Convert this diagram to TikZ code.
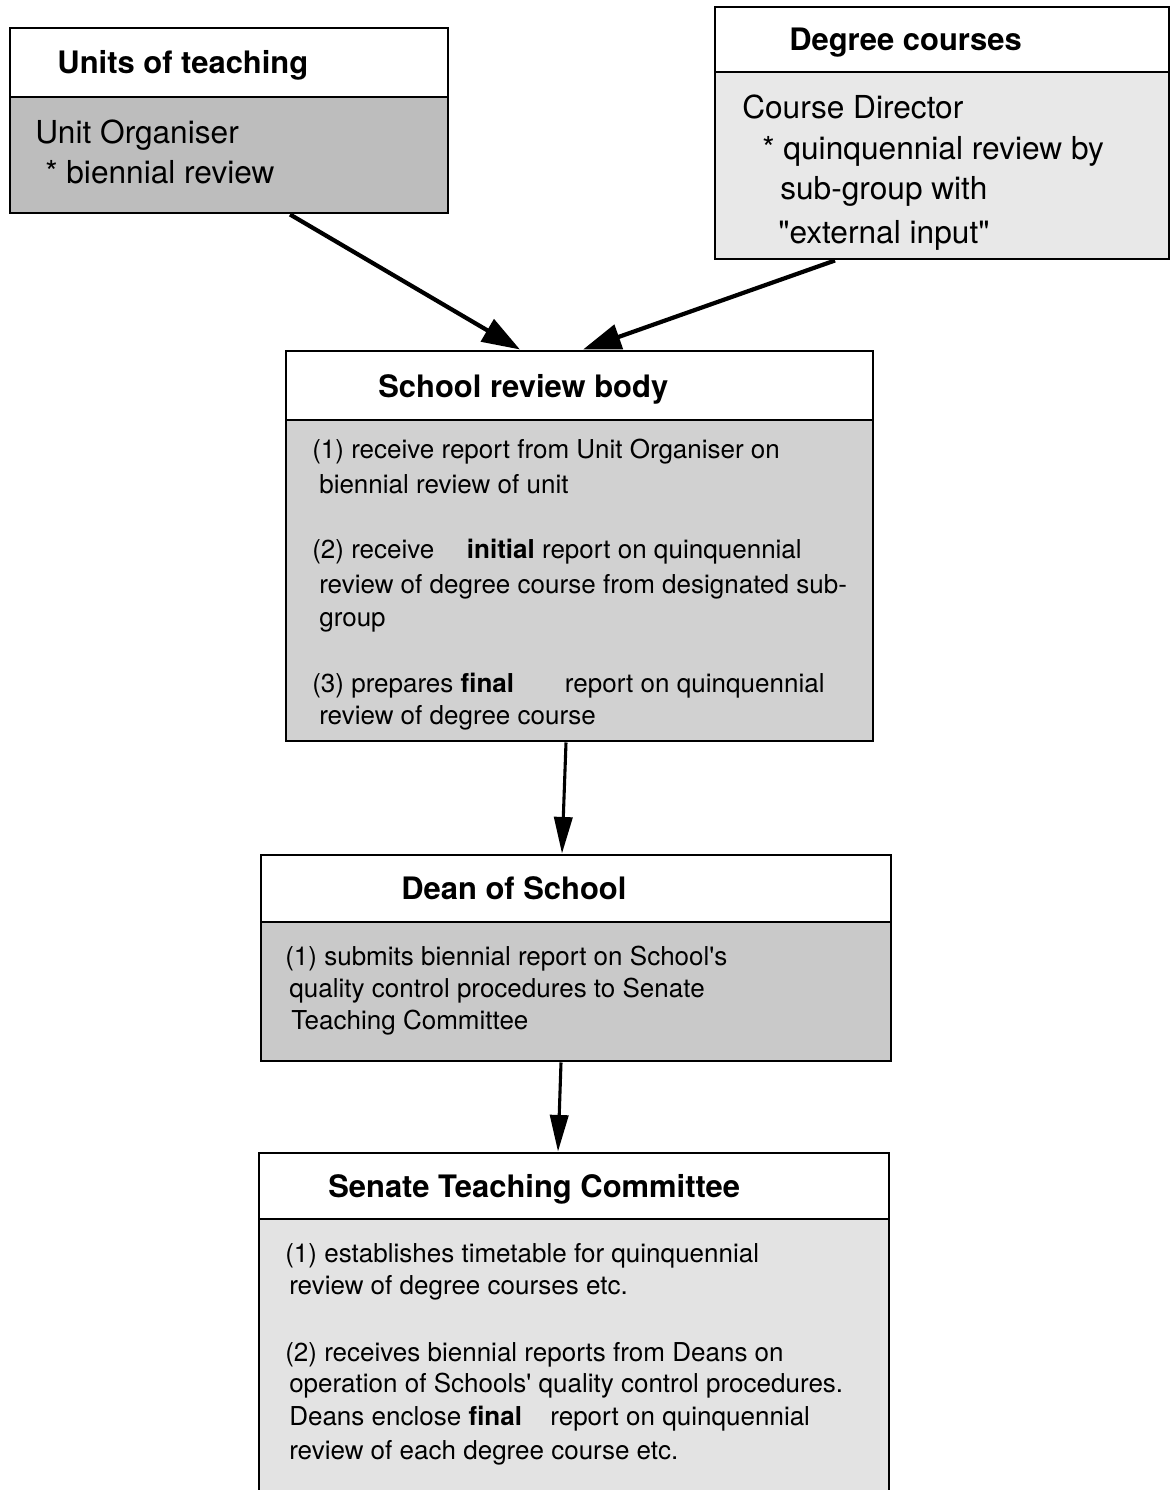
\documentclass[tikz,border=0pt]{standalone}
\usepackage{fontspec}
\setmainfont{TeX Gyre Heros}
\usetikzlibrary{arrows.meta,fit}
\begin{document}
\begin{tikzpicture}[x=0.025cm,y=-0.025cm,
  frame/.style={draw=black, line width=2.1pt, inner sep=0pt},
  divider/.style={line width=2.1pt},
  head/.style={anchor=base west, inner sep=0pt, font=\fontsize{22}{26}\selectfont\bfseries},
  bigtxt/.style={anchor=base west, inner sep=0pt, font=\fontsize{22.5}{27}\selectfont},
  txt/.style={anchor=base west, inner sep=0pt, font=\fontsize{18.5}{22}\selectfont},
  arr/.style={line width=3pt, -{Triangle[length=27pt,width=18pt]}},
  varr/.style={line width=2.2pt, -{Triangle[length=26pt,width=13pt]}}]
\useasboundingbox (0,0) rectangle (1170,1490);
% shaded bodies
\fill[black!26] (10,97) rectangle (448,213);
\fill[black!9] (715,72) rectangle (1169,259);
\fill[black!18] (286,420) rectangle (873,741);
\fill[black!21] (261,922) rectangle (891,1061);
\fill[black!11] (259,1219) rectangle (889,1500);
% frames
\node[frame, fit={(10,28) (448,213)}] (units) {};
\node[frame, fit={(715,7) (1169,259)}] (degree) {};
\node[frame, fit={(286,351) (873,741)}] (school) {};
\node[frame, fit={(261,855) (891,1061)}] (dean) {};
\node[frame, fit={(259,1153) (889,1500)}] (senate) {};
% dividers
\draw[divider] (10,97) -- (448,97);
\draw[divider] (715,72) -- (1169,72);
\draw[divider] (286,420) -- (873,420);
\draw[divider] (261,922) -- (891,922);
\draw[divider] (259,1219) -- (889,1219);
% Units of teaching
\node[head] (uh) at (57,74) {Units of teaching};
\node[bigtxt] (u1) at (35,144) {Unit Organiser};
\node[bigtxt] (u2) at (45,184) {* biennial review};
% Degree courses
\node[head] (dh) at (789,51) {Degree courses};
\node[bigtxt] (d1) at (742,119) {Course Director};
\node[bigtxt] (d2) at (762,160) {* quinquennial review by};
\node[bigtxt] (d3) at (780,200) {sub-group with};
\node[bigtxt] (d4) at (778,244) {\textquotedbl external input\textquotedbl};
% School review body
\node[head] (sh) at (378,397) {School review body};
\node[txt] (s1) at (312,458) {(1) receive report from Unit Organiser on};
\node[txt] (s2) at (319,493) {biennial review of unit};
\node[txt] (s3) at (312,558) {(2) receive\hspace{18pt} \textbf{initial} report on quinquennial};
\node[txt] (s4) at (319,593) {review of degree course from designated sub-};
\node[txt] (s5) at (319,626) {group};
\node[txt] (s6) at (312,692) {(3) prepares \textbf{final}\hspace{31pt} report on quinquennial};
\node[txt] (s7) at (319,724) {review of degree course};
% Dean of School
\node[head] (deh) at (401,899) {Dean of School};
\node[txt] (de1) at (285,965) {(1) submits biennial report on School\textquotesingle s};
\node[txt] (de2) at (289,997) {quality control procedures to Senate};
\node[txt] (de3) at (291,1029) {Teaching Committee};
% Senate Teaching Committee
\node[head] (sth) at (328,1197) {Senate Teaching Committee};
\node[txt] (st1) at (285,1262) {(1) establishes timetable for quinquennial};
\node[txt] (st2) at (289,1294) {review of degree courses etc.};
\node[txt] (st3) at (285,1361) {(2) receives biennial reports from Deans on};
\node[txt] (st4) at (289,1392) {operation of Schools\textquotesingle{} quality control procedures.};
\node[txt] (st5) at (289,1425) {Deans enclose \textbf{final}\hspace{15pt} report on quinquennial};
\node[txt] (st6) at (289,1459) {review of each degree course etc.};
% connectors
\draw[arr] ([xshift=1.525cm]units.south) -- ([xshift=-1.4875cm]school.north);
\draw[arr] ([xshift=-2.675cm]degree.south) -- ([xshift=0.0875cm]school.north);
\draw[varr] ([xshift=-0.3375cm]school.south) -- ([xshift=-0.35cm]dean.north);
\draw[varr] ([xshift=-0.375cm]dean.south) -- ([xshift=-0.4cm]senate.north);
\end{tikzpicture}
\end{document}
